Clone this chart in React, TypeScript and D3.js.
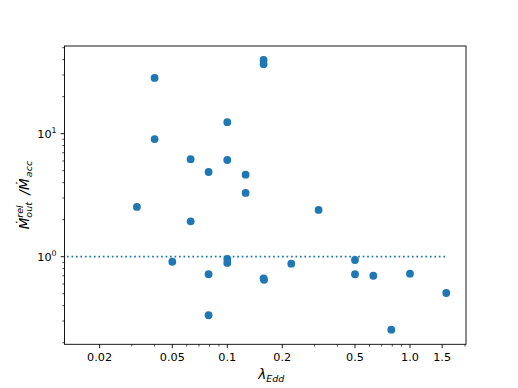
import React from "react";
import * as d3 from "d3";

const lambdaEdd = [0.032, 0.04, 0.04, 0.05, 0.063, 0.063, 0.079, 0.079, 0.079, 0.1, 0.1, 0.1, 0.1, 0.126, 0.126, 0.158, 0.158, 0.158, 0.159, 0.224, 0.316, 0.5, 0.5, 0.63, 0.79, 1.0, 1.58];
const mdotRatio = [2.54, 28.4, 9.04, 0.91, 6.2, 1.94, 4.88, 0.72, 0.334, 12.4, 6.11, 0.958, 0.89, 4.64, 3.3, 39.7, 36.7, 0.665, 0.648, 0.877, 2.4, 0.94, 0.72, 0.7, 0.255, 0.728, 0.507];

const xTickValues = [0.02, 0.05, 0.1, 0.2, 0.5, 1.0, 1.5];
const xTickLabels = ["0.02", "0.05", "0.1", "0.2", "0.5", "1.0", "1.5"];
const yTickValues = [1, 10];
const yTickExps = ["0", "1"];
const refLevel = 1;
const refLineEnd = 1.6;

const W = 518, H = 388;
const L = 64.5, R = 466, T = 46, B = 344.3;
const C = "#1f77b4";
const FONT = "DejaVu Sans, sans-serif";

export default function App() {
  const x = d3.scaleLog().domain([0.01285, 2.026]).range([L, R]);
  const y = d3.scaleLog().domain([0.194, 51.6]).range([B, T]);

  const [x0, x1] = x.domain();
  const [y0, y1] = y.domain();
  const xMinor: number[] = [];
  const yMinor: number[] = [];
  for (let e = -3; e <= 2; e++) {
    for (let m = 1; m <= 9; m++) {
      const v = m * Math.pow(10, e);
      if (v >= x0 && v <= x1 * 1.0001 && !xTickValues.some(t => Math.abs(t - v) / v < 1e-6)) xMinor.push(v);
      if (m > 1 && v >= y0 && v <= y1) yMinor.push(v);
    }
  }

  const majLen = 3.9, minLen = 2.25, sw = 0.9;
  const fs = 11.25;

  return (
    <svg width={W} height={H} style={{ position: "absolute", left: 0, top: 0, background: "#fff" }} fontFamily={FONT}>
      <rect x={0} y={0} width={W} height={H} fill="#fff" />
      <defs>
        <clipPath id="plotclip">
          <rect x={L} y={T} width={R - L} height={B - T} />
        </clipPath>
      </defs>
      <g clipPath="url(#plotclip)">
        <line x1={x(0.01)} x2={x(refLineEnd)} y1={y(refLevel)} y2={y(refLevel)} stroke={C} strokeWidth={1.69} strokeDasharray="1.69,2.79" />
        {lambdaEdd.map((v, i) => (
          <circle key={i} cx={x(v)} cy={y(mdotRatio[i])} r={3.9} fill={C} />
        ))}
      </g>
      <rect x={L} y={T} width={R - L} height={B - T} fill="none" stroke="#000" strokeWidth={sw} />
      {xMinor.map((v, i) => (
        <line key={"xm" + i} x1={x(v)} x2={x(v)} y1={B} y2={B + minLen} stroke="#000" strokeWidth={0.7} />
      ))}
      {xTickValues.map((v, i) => (
        <g key={"xt" + i}>
          <line x1={x(v)} x2={x(v)} y1={B} y2={B + majLen} stroke="#000" strokeWidth={sw} />
          <text x={x(v)} y={360.5} fontSize={fs} textAnchor="middle" fill="#000">{xTickLabels[i]}</text>
        </g>
      ))}
      {yMinor.map((v, i) => (
        <line key={"ym" + i} x1={L - minLen} x2={L} y1={y(v)} y2={y(v)} stroke="#000" strokeWidth={0.7} />
      ))}
      {yTickValues.map((v, i) => (
        <g key={"yt" + i}>
          <line x1={L - majLen} x2={L} y1={y(v)} y2={y(v)} stroke="#000" strokeWidth={sw} />
          <text x={L - majLen - 4} y={y(v) + 4.2} fontSize={fs} textAnchor="end" fill="#000">
            10<tspan fontSize={fs * 0.7} dy={-4.6}>{yTickExps[i]}</tspan>
          </text>
        </g>
      ))}
      <text x={(L + R) / 2 - 7} y={379} fontSize={13.5} fontStyle="italic" fill="#000">
        λ<tspan fontSize={9.5} dy={3}>Edd</tspan>
      </text>
      <g transform={`translate(28.5, ${(T + B) / 2}) rotate(-90)`}>
        <text x={-34} y={0} fontSize={13.5} fontStyle="italic" fill="#000">Ṁ</text>
        <text x={-22.5} y={-5.5} fontSize={9.5} fontStyle="italic" fill="#000">rel</text>
        <text x={-22.5} y={3} fontSize={9.5} fontStyle="italic" fill="#000">out</text>
        <text x={0.5} y={0} fontSize={13.5} fontStyle="italic" fill="#000">/Ṁ</text>
        <text x={18} y={3} fontSize={9.5} fontStyle="italic" fill="#000">acc</text>
      </g>
    </svg>
  );
}
